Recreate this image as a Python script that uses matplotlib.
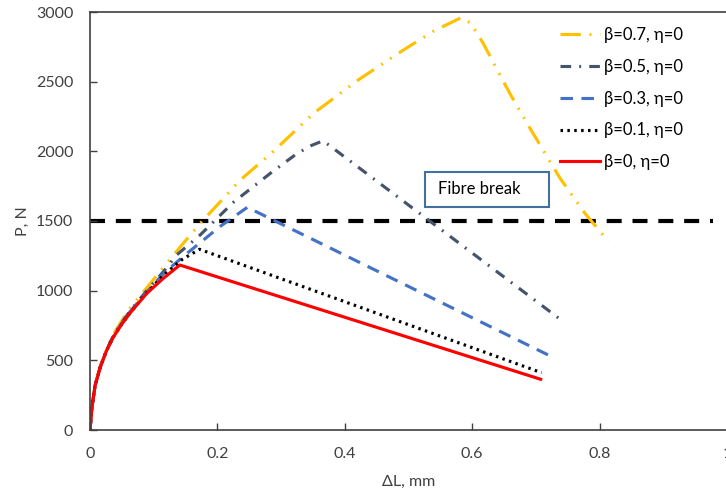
import matplotlib

matplotlib.use("Agg")
import matplotlib.pyplot as plt
from matplotlib.patches import Rectangle

plt.rcParams["font.family"] = ["Lato", "DejaVu Sans"]

# load-displacement curves
x_b00 = [0, 0.003, 0.008, 0.016, 0.026, 0.037, 0.05, 0.063, 0.089, 0.115, 0.141, 0.7075]
p_b00 = [0, 160, 320, 450, 570, 670, 760, 840, 980, 1088, 1184, 364]

x_b01 = [0, 0.003, 0.008, 0.016, 0.026, 0.037, 0.05, 0.063, 0.089, 0.115, 0.145, 0.172, 0.709]
p_b01 = [0, 160, 320, 450, 570, 670, 760, 840, 985, 1110, 1225, 1297, 411]

x_b03 = [0, 0.003, 0.008, 0.016, 0.026, 0.037, 0.05, 0.063, 0.089, 0.115, 0.146, 0.204, 0.247, 0.7195]
p_b03 = [0, 160, 320, 450, 572, 675, 768, 850, 990, 1120, 1244, 1460, 1598, 538]

x_b05 = [0, 0.003, 0.008, 0.016, 0.026, 0.037, 0.05, 0.063, 0.089, 0.115, 0.136, 0.173, 0.225,
         0.283, 0.324, 0.347, 0.366, 0.738]
p_b05 = [0, 160, 320, 450, 575, 680, 772, 855, 1000, 1135, 1256, 1400, 1634,
         1842, 1981, 2041, 2076, 795]

x_b07 = [0, 0.003, 0.008, 0.016, 0.026, 0.037, 0.05, 0.063, 0.089, 0.105, 0.141, 0.173, 0.236,
         0.288, 0.351, 0.421, 0.492, 0.539, 0.583, 0.598, 0.617, 0.659, 0.693, 0.738, 0.777, 0.814]
p_b07 = [0, 160, 320, 455, 580, 690, 785, 875, 1020, 1110, 1310, 1483, 1794,
         2000, 2273, 2512, 2727, 2862, 2960, 2919, 2777, 2416, 2148, 1806, 1555, 1352]

labels = ["β=0.7, η=0", "β=0.5, η=0", "β=0.3, η=0", "β=0.1, η=0", "β=0, η=0"]
fibre_break_load = 1500
fibre_break_x = [0, 0.978]

TEXT = "#404040"


def main() -> None:
    fig = plt.figure(figsize=(7.26, 4.95), dpi=100)
    ax = fig.add_axes([90 / 726, 65 / 495, 637 / 726, 418 / 495])

    lw = 2.25
    ax.plot(fibre_break_x, [fibre_break_load] * 2, color="black", linewidth=3,
            dashes=(3.6, 2.6), zorder=1)

    ax.plot(x_b07, p_b07, color="#FFC000", linewidth=lw,
            dashes=(6.5, 2.8, 0.6, 2.8, 0.6, 2.8), label=labels[0])
    ax.plot(x_b05, p_b05, color="#44546A", linewidth=lw,
            dashes=(3.4, 2.6, 0.6, 2.6), label=labels[1])
    ax.plot(x_b03, p_b03, color="#4472C4", linewidth=lw,
            dashes=(4, 2.7), label=labels[2])
    ax.plot(x_b01, p_b01, color="black", linewidth=lw,
            dashes=(0.8, 1.4), label=labels[3])
    ax.plot(x_b00, p_b00, color="#FF0000", linewidth=lw, label=labels[4])

    box = Rectangle((0.526, 1600), 0.195, 252, facecolor="white", edgecolor="#41719C",
                    linewidth=1.5, zorder=3)
    ax.add_patch(box)
    ax.text(0.546, 1730, "Fibre break", fontsize=12, color="black", va="center", ha="left",
            zorder=4)

    ax.set_xlim(0, 1)
    ax.set_ylim(0, 3000)
    ax.set_xticks([0, 0.2, 0.4, 0.6, 0.8, 1])
    ax.set_xticklabels(["0", "0.2", "0.4", "0.6", "0.8", "1"])
    ax.set_yticks(range(0, 3001, 500))

    ax.tick_params(direction="in", length=5, width=1, colors=TEXT, labelsize=11.5)
    ax.tick_params(axis="x", pad=12)
    ax.tick_params(axis="y", pad=12)
    for side in ["left", "bottom", "top"]:
        ax.spines[side].set_color(TEXT)
        ax.spines[side].set_linewidth(1.2)
    ax.spines["right"].set_visible(False)

    ax.set_xlabel("ΔL, mm", fontsize=11.5, color=TEXT, labelpad=10)
    ax.set_ylabel("P, N", fontsize=11.5, color=TEXT, labelpad=4)

    leg = ax.legend(loc="upper right", bbox_to_anchor=(0.955, 1.0), frameon=False,
                    fontsize=12, handlelength=2.4, handletextpad=0.25, labelspacing=0.95)
    for t in leg.get_texts():
        t.set_color("black")

    fig.savefig("out.png", dpi=100)
    plt.close(fig)


if __name__ == "__main__":
    main()
